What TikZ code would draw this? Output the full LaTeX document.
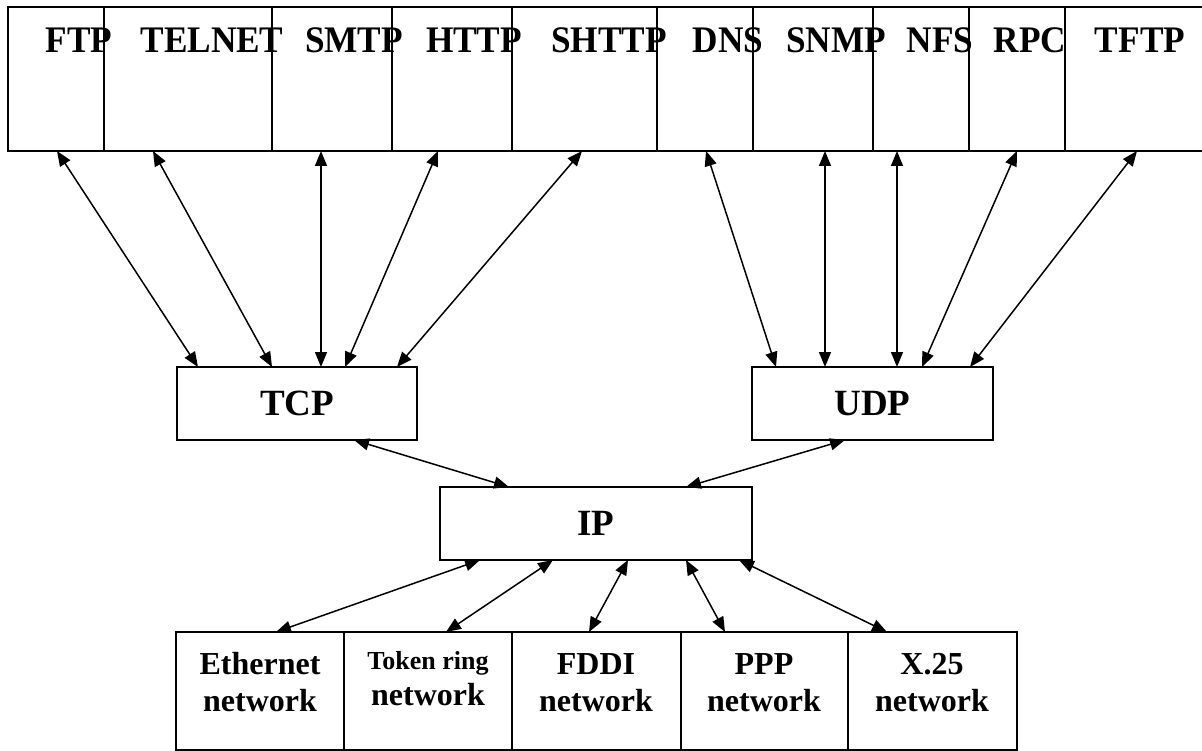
\documentclass[tikz,border=0pt]{standalone}
\usepackage{fontspec}
\setmainfont{Liberation Serif}
\newfontfamily\narrowfont[FakeStretch=0.94]{Liberation Serif}
\usetikzlibrary{arrows.meta}

\begin{document}
\begin{tikzpicture}[x=1pt,y=-1pt,
  cell/.style={draw, line width=1.8pt, rectangle, inner sep=0pt, outer sep=0pt,
    anchor=north west},
  midbox/.style={cell, minimum height=73pt,
    font=\bfseries\fontsize{37pt}{37pt}\selectfont},
  netbox/.style={cell, minimum height=118pt},
  toplabel/.style={anchor=base, inner sep=0pt,
    font=\narrowfont\bfseries\fontsize{37.5pt}{37.5pt}\selectfont},
  netlabel/.style={anchor=base, inner sep=0pt,
    font=\bfseries\fontsize{32pt}{32pt}\selectfont},
  smalllabel/.style={anchor=base, inner sep=0pt,
    font=\bfseries\fontsize{26pt}{26pt}\selectfont},
  biarrow/.style={{Triangle[length=15pt,width=12pt]}-{Triangle[length=15pt,width=12pt]},
    line width=1.5pt}
]
\useasboundingbox (0,0) rectangle (1202,751);

% application layer: row of protocol cells
\node[cell, minimum width=96pt,  minimum height=144pt] (ftp) at (8,7) {};
\node[cell, minimum width=168pt, minimum height=144pt] (telnet) at (ftp.north east) {};
\node[cell, minimum width=120pt, minimum height=144pt] (smtp) at (telnet.north east) {};
\node[cell, minimum width=120pt, minimum height=144pt] (http) at (smtp.north east) {};
\node[cell, minimum width=145pt, minimum height=144pt] (shttp) at (http.north east) {};
\node[cell, minimum width=96pt,  minimum height=144pt] (dns) at (shttp.north east) {};
\node[cell, minimum width=120pt, minimum height=144pt] (snmp) at (dns.north east) {};
\node[cell, minimum width=96pt,  minimum height=144pt] (nfs) at (snmp.north east) {};
\node[cell, minimum width=96pt,  minimum height=144pt] (rpc) at (nfs.north east) {};
\node[cell, minimum width=139pt, minimum height=144pt] (tftp) at (rpc.north east) {};

\node[toplabel] (lftp)    at (79,53)   {FTP};
\node[toplabel] (ltelnet) at (212,53)  {TELNET};
\node[toplabel] (lsmtp)   at (354,53)  {SMTP};
\node[toplabel] (lhttp)   at (474,53)  {HTTP};
\node[toplabel] (lshttp)  at (609,53)  {SHTTP};
\node[toplabel] (ldns)    at (728,53)  {DNS};
\node[toplabel] (lsnmp)   at (836,53)  {SNMP};
\node[toplabel] (lnfs)    at (940,53)  {NFS};
\node[toplabel] (lrpc)    at (1030,53) {RPC};
\node[toplabel] (ltftp)   at (1140,53) {TFTP};

% transport and network layers
\node[midbox, minimum width=240pt] (tcp) at (177,367) {TCP};
\node[midbox, minimum width=241pt] (udp) at (752,367) {UDP};
\node[midbox, minimum width=312pt] (ip)  at (440,487) {IP};

% link layer
\node[netbox, minimum width=168pt] (eth)  at (176,632) {};
\node[netbox, minimum width=168pt] (tok)  at (eth.north east) {};
\node[netbox, minimum width=169pt] (fddi) at (tok.north east) {};
\node[netbox, minimum width=167pt] (ppp)  at (fddi.north east) {};
\node[netbox, minimum width=169pt] (x25)  at (ppp.north east) {};

\node[netlabel]   (leth1)  at (260,674) {Ethernet};
\node[netlabel]   (leth2)  at (260,711) {network};
\node[smalllabel] (ltok1)  at (428,669) {Token ring};
\node[netlabel]   (ltok2)  at (428,705) {network};
\node[netlabel]   (lfddi1) at (596,674) {FDDI};
\node[netlabel]   (lfddi2) at (596,711) {network};
\node[netlabel]   (lppp1)  at (764,674) {PPP};
\node[netlabel]   (lppp2)  at (764,711) {network};
\node[netlabel]   (lx251)  at (932,674) {X.25};
\node[netlabel]   (lx252)  at (932,711) {network};

% application <-> TCP
\draw[biarrow] ([xshift=49pt]ftp.south west)    -- ([xshift=21pt]tcp.north west);
\draw[biarrow] ([xshift=49pt]telnet.south west) -- ([xshift=95pt]tcp.north west);
\draw[biarrow] ([xshift=49pt]smtp.south west)   -- ([xshift=144pt]tcp.north west);
\draw[biarrow] ([xshift=46pt]http.south west)   -- ([xshift=168pt]tcp.north west);
\draw[biarrow] ([xshift=70pt]shttp.south west)  -- ([xshift=220pt]tcp.north west);

% application <-> UDP
\draw[biarrow] ([xshift=49pt]dns.south west)  -- ([xshift=24pt]udp.north west);
\draw[biarrow] ([xshift=72pt]snmp.south west) -- ([xshift=73pt]udp.north west);
\draw[biarrow] ([xshift=24pt]nfs.south west)  -- ([xshift=145pt]udp.north west);
\draw[biarrow] ([xshift=48pt]rpc.south west)  -- ([xshift=170pt]udp.north west);
\draw[biarrow] ([xshift=72pt]tftp.south west) -- ([xshift=218pt]udp.north west);

% transport <-> IP
\draw[biarrow] ([xshift=177pt]tcp.south west) -- ([xshift=69pt]ip.north west);
\draw[biarrow] ([xshift=93pt]udp.south west)  -- ([xshift=246pt]ip.north west);

% IP <-> link layer
\draw[biarrow] ([xshift=40pt]ip.south west)  -- ([xshift=100pt]eth.north west);
\draw[biarrow] ([xshift=113pt]ip.south west) -- ([xshift=102pt]tok.north west);
\draw[biarrow] ([xshift=188pt]ip.south west) -- ([xshift=77pt]fddi.north west);
\draw[biarrow] ([xshift=246pt]ip.south west) -- ([xshift=44pt]ppp.north west);
\draw[biarrow] ([xshift=299pt]ip.south west) -- ([xshift=39pt]x25.north west);
\end{tikzpicture}
\end{document}
